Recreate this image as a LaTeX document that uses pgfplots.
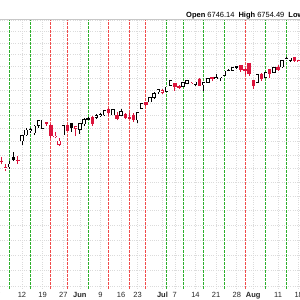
\documentclass[border=0pt]{standalone}
\usepackage{pgfplots}
\pgfplotsset{compat=1.18}
\usepackage{pgfplotstable}
\usepackage{fontspec}
\setmainfont{Liberation Sans}
\definecolor{cred}{RGB}{220,20,60}
\definecolor{vgreen}{RGB}{45,175,45}
\definecolor{vred}{RGB}{240,75,75}
% daily candles: i = trading day (0 = May 12), O H L C, t: 1 black hollow, 2 black filled, 3 red hollow, 4 red filled
\pgfplotstableread{
i O H L C t
-5 5655.3 5683.5 5631.2 5650.4 4
-4 5605.9 5634.5 5581.8 5606.9 3
-3 5614.2 5654.1 5597.3 5631.3 1
-2 5683.6 5720.1 5656.2 5663.9 2
-1 5663.4 5691.3 5635.6 5659.9 4
0 5807.9 5844.2 5775.9 5844.2 1
1 5854.6 5906.6 5845.2 5886.6 1
2 5887.0 5906.0 5868.2 5892.6 1
3 5869.5 5924.9 5851.7 5916.9 1
4 5929.3 5958.6 5907.4 5958.4 1
5 5902.9 5968.6 5895.7 5963.6 1
6 5944.7 5953.1 5921.9 5940.5 4
7 5928.3 5938.3 5830.2 5844.6 4
8 5841.3 5878.1 5825.8 5842.0 3
9 5781.9 5829.5 5767.4 5802.8 3
10 5854.1 5924.4 5854.1 5921.5 1
11 5925.0 5929.0 5886.1 5888.6 4
12 5939.9 5943.1 5874.8 5912.2 2
13 5903.7 5922.1 5843.7 5911.7 3
14 5896.7 5937.4 5861.4 5935.9 1
15 5938.6 5981.4 5921.9 5970.4 1
16 5978.1 5990.5 5966.1 5970.8 2
17 5985.7 5999.7 5921.2 5939.3 4
18 5987.1 6016.9 5978.6 6000.4 1
19 6004.6 6021.3 5994.2 6005.9 1
20 6009.9 6043.0 6000.3 6038.8 1
21 6049.4 6059.4 6002.3 6022.2 4
22 6009.9 6045.4 6003.9 6045.3 1
23 6000.6 6026.2 5963.2 5977.0 4
24 6004.0 6050.8 6004.0 6033.1 1
25 6012.2 6023.3 5974.8 5982.7 4
26 5987.9 6018.2 5971.9 5981.0 4
27 6004.9 6018.2 5952.6 5967.8 4
28 5969.7 6028.8 5943.2 6025.2 1
29 6061.2 6101.8 6059.3 6092.2 1
30 6104.0 6108.5 6080.6 6092.2 4
31 6112.1 6146.5 6105.8 6141.0 1
32 6150.7 6187.7 6132.4 6173.1 1
33 6193.4 6215.1 6174.0 6204.9 1
34 6187.3 6210.8 6174.0 6198.0 3
35 6193.6 6227.6 6188.2 6227.4 1
36 6246.5 6284.7 6246.5 6279.4 1
37 6259.8 6262.7 6201.0 6230.0 4
38 6234.0 6242.7 6217.5 6225.5 4
39 6239.6 6269.1 6227.6 6263.3 1
40 6262.5 6290.2 6251.2 6280.5 1
41 6256.3 6272.3 6251.6 6259.8 3
42 6255.2 6272.5 6241.8 6268.6 1
43 6295.3 6302.4 6241.7 6243.8 4
44 6248.5 6265.1 6201.0 6263.7 1
45 6270.2 6304.0 6264.0 6297.4 1
46 6311.1 6315.6 6279.3 6296.8 4
47 6304.7 6336.1 6303.8 6305.6 1
48 6306.6 6316.1 6281.7 6309.6 1
49 6326.9 6360.6 6317.5 6358.9 1
50 6368.6 6381.3 6360.6 6363.4 2
51 6370.0 6390.0 6364.0 6388.6 1
52 6397.7 6401.1 6375.2 6389.8 2
53 6409.3 6409.3 6356.7 6370.9 4
54 6377.9 6389.7 6327.8 6362.9 4
55 6427.0 6427.0 6323.4 6339.4 4
56 6287.3 6288.3 6212.7 6238.0 4
57 6271.7 6330.0 6271.7 6329.9 1
58 6336.0 6344.0 6282.0 6299.2 4
59 6309.3 6350.6 6300.0 6345.1 1
60 6374.1 6379.1 6302.2 6340.0 4
61 6351.0 6395.2 6351.0 6389.5 1
62 6389.7 6409.3 6364.3 6373.5 4
63 6397.7 6446.2 6385.8 6445.8 1
64 6465.0 6480.3 6451.0 6466.6 1
65 6453.4 6469.6 6441.0 6468.5 1
66 6478.3 6481.3 6441.1 6449.8 4
67 6445.8 6455.4 6437.5 6449.2 3
}\spx
\begin{document}
\begin{tikzpicture}
\begin{axis}[
  at={(0pt,11pt)}, anchor=south west,
  scale only axis, width=300pt, height=270pt,
  xmin=-5.327, xmax=67.312,
  ymode=log, ymin=4785, ymax=6810,
  axis line style={draw=none},
  major tick length=0pt, minor tick length=0pt,
  xtick={0,5,10,14,19,24,28,34,37,42,47,52,56,62,67},
  xticklabels={12,19,27,\textbf{Jun},9,16,23,\textbf{Jul},7,14,21,28,\textbf{Aug},11,18},
  ytick={4800,4900,5000,5100,5200,5300,5400,5500,5600,5700,5800,5900,6000,6100,6200,6300,6400,6500,6600,6700,6800},
  yticklabels={},
  xmajorgrids, ymajorgrids,
  major grid style={black!14, line width=0.6pt, dash pattern=on 1pt off 1.2pt},
  xticklabel style={font=\fontsize{7.5}{9}\selectfont, text=black!85},
  clip mode=individual,
]
\pgfplotsinvokeforeach{-3,2,16,35,39,44,49,59,64}{
  \addplot[vgreen, line width=1pt, dash pattern=on 2.5pt off 1.5pt, forget plot] coordinates {(#1,4785) (#1,6810)};
}
\pgfplotsinvokeforeach{7,11,21,26,30,54}{
  \addplot[vred, line width=1pt, dash pattern=on 2.5pt off 1.5pt, forget plot] coordinates {(#1,4785) (#1,6810)};
}
\pgfplotsinvokeforeach{0,...,72}{%
  \pgfplotstablegetelem{#1}{i}\of{\spx}\let\ci\pgfplotsretval
  \pgfplotstablegetelem{#1}{O}\of{\spx}\let\co\pgfplotsretval
  \pgfplotstablegetelem{#1}{H}\of{\spx}\let\ch\pgfplotsretval
  \pgfplotstablegetelem{#1}{L}\of{\spx}\let\cl\pgfplotsretval
  \pgfplotstablegetelem{#1}{C}\of{\spx}\let\cc\pgfplotsretval
  \pgfplotstablegetelem{#1}{t}\of{\spx}\let\ct\pgfplotsretval
  \ifnum\ct<3 \def\ccol{black}\else\def\ccol{cred}\fi
  \edef\tmp{\noexpand\addplot[\ccol, line width=0.85pt, forget plot] coordinates {(\ci,\cl) (\ci,\ch)};}\tmp
  \ifodd\ct
    \edef\tmp{\noexpand\addplot[\ccol, line width=3.4pt, shorten <=-0.7pt, shorten >=-0.7pt, forget plot] coordinates {(\ci,\co) (\ci,\cc)};%
      \noexpand\addplot[white, line width=2pt, forget plot] coordinates {(\ci,\co) (\ci,\cc)};}\tmp
  \else
    \edef\tmp{\noexpand\addplot[\ccol, line width=3.4pt, shorten <=-0.45pt, shorten >=-0.45pt, forget plot] coordinates {(\ci,\co) (\ci,\cc)};}\tmp
  \fi
}
\draw[black!22, line width=0.8pt] (rel axis cs:0,1) -- (rel axis cs:1,1);
\node[anchor=north, font=\fontsize{7.5}{9}\selectfont\bfseries, text=black!85, yshift=-2.5pt, inner sep=0pt] at (axis cs:-7,4785) {May};
\end{axis}
\node[anchor=base west, font=\fontsize{7.5}{9}\selectfont, inner sep=0pt] at (186pt,282.5pt) {\textbf{Open} 6746.14\hspace{4pt}\textbf{High} 6754.49\hspace{4pt}\textbf{Low}};
\pgfresetboundingbox
\path[use as bounding box] (0,0) rectangle (300pt,300pt);
\end{tikzpicture}
\end{document}
